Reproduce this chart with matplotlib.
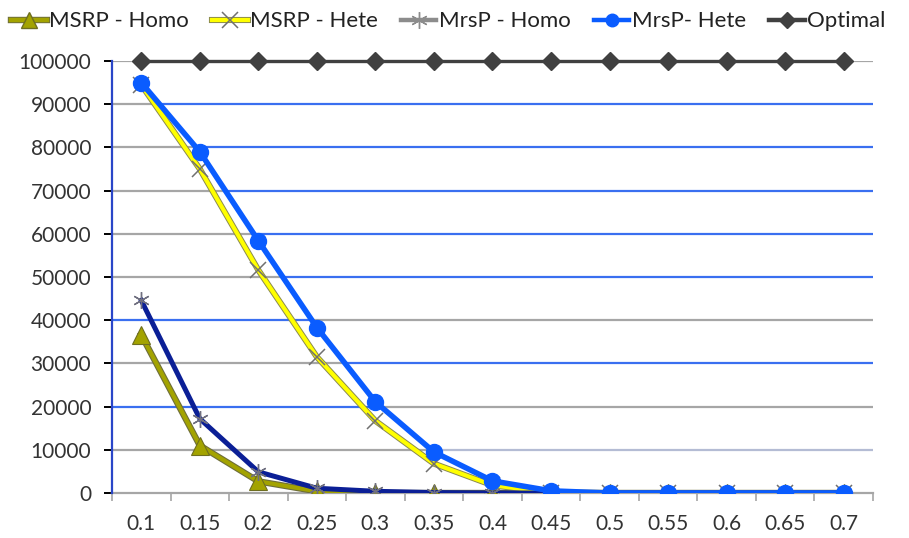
import numpy as np
import matplotlib
matplotlib.use("Agg")
from matplotlib import pyplot as plt
from matplotlib import patheffects as pe
from matplotlib.lines import Line2D

plt.rcParams["font.family"] = ["Lato", "DejaVu Sans"]

# x categories and series values
probs = ["0.1", "0.15", "0.2", "0.25", "0.3", "0.35", "0.4",
         "0.45", "0.5", "0.55", "0.6", "0.65", "0.7"]
msrp_homo = [36600, 11000, 2700, 400, 0, 0, 0, 0, 0, 0, 0, 0, 0]
msrp_hete = [94500, 75000, 51600, 31500, 16700, 6800, 1800, 100, 0, 0, 0, 0, 0]
mrsp_homo = [44600, 17200, 4900, 1100, 400, 100, 0, 0, 0, 0, 0, 0, 0]
mrsp_hete = [95000, 79000, 58400, 38300, 21100, 9500, 2800, 500, 0, 0, 0, 0, 0]
optimal = [100000] * 13
y_ticks = [0, 10000, 20000, 30000, 40000, 50000, 60000, 70000, 80000, 90000, 100000]

GRAY = "#a6a6a6"
BLUE = "#3a6ff0"
LIGHT = "#b4bcd4"
ASTERISK = (6, 2, 0)


def main():
    fig = plt.figure(figsize=(9.09, 5.38), dpi=100)
    ax = fig.add_axes([0.1232, 0.0836, 0.8372, 0.803])
    x = np.arange(len(probs))

    ax.set_xlim(-0.5, len(probs) - 0.5)
    ax.set_ylim(0, 100000)

    # gridlines change colour where the MrsP-Hete curve crosses them
    left_col = {10000: GRAY, 20000: BLUE, 30000: GRAY, 40000: BLUE, 50000: GRAY,
                60000: GRAY, 70000: GRAY, 80000: GRAY, 90000: GRAY, 100000: GRAY}
    right_col = {10000: LIGHT, 20000: GRAY, 30000: BLUE, 40000: GRAY, 50000: BLUE,
                 60000: BLUE, 70000: BLUE, 80000: BLUE, 90000: BLUE, 100000: GRAY}
    hete = np.array(mrsp_hete, dtype=float)
    for v in y_ticks[1:]:
        if v >= hete.max():
            split = len(probs) - 0.5
        else:
            split = np.interp(v, hete[::-1], x[::-1].astype(float))
        ax.plot([-0.5, split], [v, v], color=left_col[v], lw=1.6, zorder=1,
                solid_capstyle="butt")
        ax.plot([split, len(probs) - 0.5], [v, v], color=right_col[v], lw=1.6,
                zorder=1, solid_capstyle="butt")

    olive_fx = [pe.Stroke(linewidth=4.6, foreground="#6e6e3a"), pe.Normal()]
    yellow_fx = [pe.Stroke(linewidth=4.4, foreground="#8a8a50"), pe.Normal()]

    # MSRP - Homo
    ax.plot(x, msrp_homo, color="#a3a300", lw=3.0, zorder=3, path_effects=olive_fx)
    ax.plot(x, msrp_homo, ls="none", marker="^", ms=13, color="#a3a300",
            mec="#6e6e20", mew=0.8, zorder=3)
    # MSRP - Hete
    ax.plot(x, msrp_hete, color="#ffff00", lw=3.0, zorder=3, path_effects=yellow_fx)
    ax.plot(x, msrp_hete, ls="none", marker="x", ms=11, mec="#707070",
            mew=1.1, zorder=3)
    # MrsP - Homo
    ax.plot(x, mrsp_homo, color="#0b1f96", lw=3.6, zorder=4)
    ax.plot(x, mrsp_homo, ls="none", marker=ASTERISK, ms=12, mec="#707080",
            mew=1.0, zorder=4)
    # MrsP - Hete
    ax.plot(x, mrsp_hete, color="#0a5cff", lw=4.0, marker="o", ms=11.5,
            mec="#0a5cff", zorder=5)
    # Optimal
    ax.plot(x, optimal, color="#404040", lw=2.4, marker="D", ms=9,
            mec="#404040", zorder=6, clip_on=False)

    for s in ["top", "right"]:
        ax.spines[s].set_visible(False)
    ax.spines["left"].set_color("#2a46c8")
    ax.spines["left"].set_linewidth(1.6)
    ax.spines["bottom"].set_color(GRAY)
    ax.spines["bottom"].set_linewidth(1.6)
    ax.spines["bottom"].set_zorder(2)

    ax.set_yticks(y_ticks)
    ax.set_yticklabels([str(v) for v in y_ticks])
    ax.tick_params(axis="y", length=6, width=1.4, pad=9, labelsize=15,
                   labelcolor="#333333")
    for v, t in zip(y_ticks, ax.yaxis.get_major_ticks()):
        t.tick1line.set_color(left_col.get(v, "#2a46c8"))

    ax.set_xticks(x)
    ax.set_xticklabels(probs)
    ax.set_xticks(np.arange(-0.5, len(probs)), minor=True)
    ax.tick_params(axis="x", which="major", length=0, pad=15, labelsize=15,
                   labelcolor="#333333")
    ax.tick_params(axis="x", which="minor", length=6, width=1.2, color=GRAY)

    handles = [
        (Line2D([], [], color="#a3a300", lw=3.2, path_effects=olive_fx),
         Line2D([], [], ls="none", color="#a3a300", marker="^", ms=12,
                mec="#6e6e20")),
        (Line2D([], [], color="#ffff00", lw=3.0, path_effects=yellow_fx),
         Line2D([], [], ls="none", marker="x", ms=11, mec="#707070", mew=1.1)),
        Line2D([], [], color="#8c8c8c", lw=3.2, marker=ASTERISK, ms=12,
               mec="#8c8c8c", mew=1.0),
        Line2D([], [], color="#0a5cff", lw=3.2, marker="o", ms=9, mec="#0a5cff"),
        Line2D([], [], color="#404040", lw=3.2, marker="D", ms=8, mec="#404040"),
    ]
    labels = ["MSRP - Homo", "MSRP - Hete", "MrsP - Homo", "MrsP- Hete", "Optimal"]
    fig.legend(handles, labels, loc="upper center", bbox_to_anchor=(0.493, 1.016),
               ncol=5, frameon=False, fontsize=16, handlelength=1.6,
               handletextpad=0.1, columnspacing=1.05, labelcolor="#222222")

    fig.savefig("out.png", dpi=100)


if __name__ == "__main__":
    main()
